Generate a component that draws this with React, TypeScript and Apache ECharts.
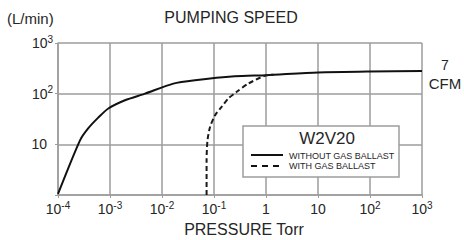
import React, { useEffect, useRef } from "react";
import * as echarts from "echarts";

const solidX = [1e-4, 2.65e-4, 3.8e-4, 6e-4, 9.3e-4, 1.94e-3, 4.7e-3, 1.65e-2, 4.3e-2, 0.25, 1, 10, 100, 1000];
const solidY = [1.05, 12, 20.6, 34, 51, 74, 100, 158, 184, 220, 232, 262, 274, 280];
const dashX = [0.072, 0.072, 0.075, 0.084, 0.105, 0.14, 0.188, 0.27, 0.457, 1, 1.4];
const dashY = [1, 4.9, 12, 22, 37.6, 55, 80, 108, 158, 230, 236];

const titleText = "PUMPING SPEED";
const unitText = "(L/min)";
const xName = "PRESSURE Torr";
const modelName = "W2V20";
const seriesNames = ["WITHOUT GAS BALLAST", "WITH GAS BALLAST"];
const cfmTop = "7";
const cfmBottom = "CFM";

const FONT = "'Liberation Sans', Arial, Helvetica, sans-serif";
const TXT = "#262626";
const GRID = "#9d9d9d";

function expLabel(v: number, axis: "x" | "y"): string {
  const e = Math.round(Math.log10(v));
  if (e === 0) return axis === "x" ? "{b|1}" : "";
  if (e === 1) return axis === "x" ? "{b|10}" : "{b|10}{p| }";
  return "{b|10}{s|" + e + "}";
}

const rich = {
  b: { fontSize: 14, fontFamily: FONT, color: TXT, lineHeight: 18 },
  s: { fontSize: 10, fontFamily: FONT, color: TXT, verticalAlign: "top", lineHeight: 10 },
  p: { fontSize: 10, fontFamily: FONT, width: 6 },
};

export default function App() {
  const ref = useRef<HTMLDivElement>(null);
  useEffect(() => {
    if (!ref.current) return;
    const chart = echarts.init(ref.current, null, { renderer: "svg" });
    chart.setOption({
      animation: false,
      backgroundColor: "#fff",
      grid: { left: 58, right: 42, top: 43, bottom: 45 },
      xAxis: {
        type: "log",
        logBase: 10,
        min: 1e-4,
        max: 1000,
        splitNumber: 7,
        axisLine: { show: true, lineStyle: { color: GRID, width: 1.5 } },
        axisTick: { show: true, length: 3, lineStyle: { color: GRID } },
        splitLine: { show: true, lineStyle: { color: GRID, width: 1.5 } },
        minorTick: { show: false },
        axisLabel: {
          margin: 5,
          formatter: (v: number) => expLabel(v, "x"),
          rich,
        },
      },
      yAxis: {
        type: "log",
        logBase: 10,
        min: 1,
        max: 1000,
        splitNumber: 3,
        axisLine: { show: true, lineStyle: { color: GRID, width: 1.5 } },
        axisTick: { show: true, length: 3, lineStyle: { color: GRID } },
        splitLine: { show: true, lineStyle: { color: GRID, width: 1.5 } },
        axisLabel: {
          margin: 5,
          formatter: (v: number) => expLabel(v, "y"),
          rich,
        },
      },
      series: [
        {
          name: seriesNames[0],
          type: "line",
          data: solidX.map((x, i) => [x, solidY[i]]),
          showSymbol: false,
          smooth: 0.25,
          lineStyle: { color: "#111", width: 2 },
          z: 3,
        },
        {
          name: seriesNames[1],
          type: "line",
          data: dashX.map((x, i) => [x, dashY[i]]),
          showSymbol: false,
          smooth: 0.25,
          lineStyle: { color: "#1a1a1a", width: 2, type: [5, 3] },
          z: 4,
        },
      ],
      graphic: [
        {
          type: "text",
          z: 100,
          x: 231,
          y: 17,
          style: { text: titleText, fontSize: 16, fontFamily: FONT, fill: TXT, align: "center", verticalAlign: "middle" },
        },
        {
          type: "text",
          z: 100,
          x: 7,
          y: 18,
          style: { text: unitText, fontSize: 15, fontFamily: FONT, fill: TXT, align: "left", verticalAlign: "middle" },
        },
        {
          type: "text",
          z: 100,
          x: 244,
          y: 229,
          style: { text: xName, fontSize: 16, fontFamily: FONT, fill: TXT, align: "center", verticalAlign: "middle" },
        },
        {
          type: "text",
          z: 100,
          x: 445,
          y: 65,
          style: { text: cfmTop, fontSize: 14, fontFamily: FONT, fill: TXT, align: "center", verticalAlign: "middle" },
        },
        {
          type: "text",
          z: 100,
          x: 445,
          y: 83,
          style: { text: cfmBottom, fontSize: 15, fontFamily: FONT, fill: TXT, align: "center", verticalAlign: "middle" },
        },
        {
          type: "rect",
          z: 100,
          shape: { x: 243, y: 126, width: 156, height: 51 },
          style: { fill: "#fff", stroke: GRID, lineWidth: 1.5 },
        },
        {
          type: "text",
          z: 101,
          x: 327,
          y: 138,
          style: { text: modelName, fontSize: 17, fontFamily: FONT, fill: TXT, align: "center", verticalAlign: "middle" },
        },
        {
          type: "line",
          z: 101,
          shape: { x1: 251, y1: 155, x2: 283, y2: 155 },
          style: { stroke: "#111", lineWidth: 2 },
        },
        {
          type: "line",
          z: 101,
          shape: { x1: 251, y1: 166, x2: 283, y2: 166 },
          style: { stroke: "#111", lineWidth: 2, lineDash: [6, 5] },
        },
        {
          type: "text",
          z: 101,
          x: 289,
          y: 155.5,
          style: { text: seriesNames[0], fontSize: 9, fontFamily: FONT, fill: TXT, align: "left", verticalAlign: "middle" },
        },
        {
          type: "text",
          z: 101,
          x: 289,
          y: 166,
          style: { text: seriesNames[1], fontSize: 9, fontFamily: FONT, fill: TXT, align: "left", verticalAlign: "middle" },
        },
      ],
    });
    return () => chart.dispose();
  }, []);
  return (
    <div
      ref={ref}
      style={{ position: "fixed", left: 0, top: 0, width: 464, height: 240 }}
    />
  );
}
